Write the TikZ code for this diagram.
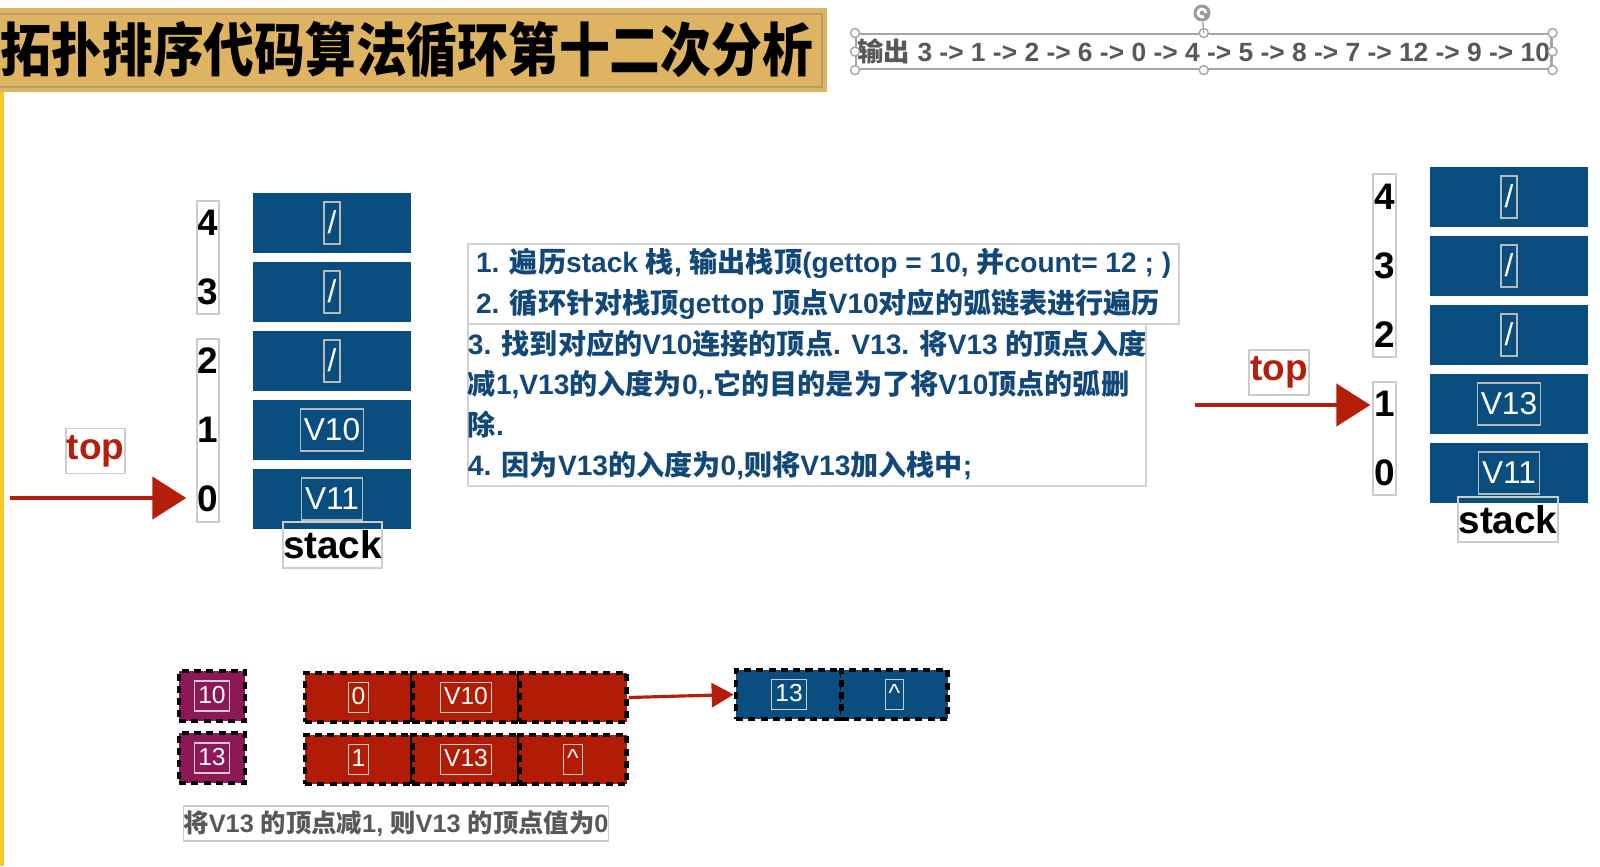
\documentclass[tikz,border=0pt]{standalone}
\usepackage{fontspec}
\setmainfont{Liberation Sans}
\newfontfamily\cjk{Noto Sans CJK SC}
\newcommand{\zh}[1]{{\cjk #1}}
\usetikzlibrary{arrows.meta}

\definecolor{dorado}{RGB}{222,179,97}
\definecolor{amarillo}{RGB}{246,200,40}
\definecolor{pilaazul}{RGB}{10,78,128}
\definecolor{rojo}{RGB}{180,30,10}
\definecolor{celdaroja}{RGB}{178,28,6}
\definecolor{morado}{RGB}{140,24,88}
\definecolor{azultexto}{RGB}{18,72,120}
\definecolor{grisout}{RGB}{88,88,88}

\begin{document}
\begin{tikzpicture}[x=0.01cm, y=-0.01cm,
    celda/.style={fill=pilaazul, minimum width=1.58cm, minimum height=0.6cm, inner sep=0pt},
    etiq/.style={draw=gray!55, line width=0.4pt, text=white, inner xsep=1pt, inner ysep=0.01cm,
        text height=0.3cm, text depth=0.1cm, font=\fontsize{9}{9}\selectfont},
    indice/.style={inner sep=0pt, font=\bfseries\fontsize{10.5}{10.5}\selectfont},
    marco/.style={draw=gray!40, line width=0.4pt, inner sep=0pt},
    flecha/.style={draw=rojo, line width=1.3pt, -{Triangle[length=0.34cm,width=0.42cm]}},
    caja/.style={draw=gray!35, line width=0.5pt, inner sep=0pt, text=azultexto, align=left,
        font=\bfseries\fontsize{8}{11.5}\selectfont},
    nodo/.style={draw=black, line width=1.3pt, dash pattern=on 2pt off 1.5pt,
        minimum height=0.49cm, inner sep=0pt},
    etiqb/.style={draw=white!60!gray, line width=0.3pt, text=white, inner xsep=1pt, inner ysep=0.01cm,
        text height=0.21cm, text depth=0.07cm, font=\fontsize{7}{7}\selectfont},
    asa/.style={circle, draw=gray!70, fill=white, inner sep=0pt, minimum size=0.09cm}]
    \useasboundingbox (0,0) rectangle (1600,866);

    % Titulo
    \fill[dorado] (0,8) rectangle (827,92);
    \draw[gray!45!dorado, line width=0.8pt] (0,14) -- (822,14) -- (822,87) -- (0,87);
    \node[anchor=west, inner sep=0pt, font=\cjk\bfseries\fontsize{16.5}{16.5}\selectfont] (titulo) at (0,50)
        {\scalebox{0.875}[1]{拓扑排序代码算法循环第十二次分析}};
    \draw[amarillo, line width=1.5pt] (1,92) -- (1,866);

    % Salida
    \node[draw=gray!70, line width=0.6pt, minimum width=6.95cm, minimum height=0.35cm, inner sep=0pt,
        anchor=north west] (salida) at (855,33) {};
    \node[text=grisout, inner sep=0pt, font=\bfseries\fontsize{7.5}{7.5}\selectfont] at (salida)
        {\zh{输出} 3 -> 1 -> 2 -> 6 -> 0 -> 4 -> 5 -> 8 -> 7 -> 12 -> 9 -> 10};
    \foreach \p in {north west,north,north east,west,east,south west,south,south east}
        \node[asa] at (salida.\p) {};
    \node[circle, fill=gray!80, inner sep=0pt, minimum size=0.17cm] (giro) at (1202,13) {};
    \draw[white, line width=0.8pt] (giro) ++(0.04cm,0) arc (0:300:0.04cm);
    \draw[gray!70] (giro) -- (salida.north);

    % Pila izquierda
    \foreach \i/\t in {0/V11,1/V10,2/\slash,3/\slash,4/\slash} {
        \node[celda] (pi\i) at (332,{499-69*\i}) {};
        \node[etiq] at (pi\i) {\t};
        \node[indice] (ni\i) at (208,{499-69*\i}) {\i};
    }
    \node[marco, minimum width=0.22cm, minimum height=1.13cm] (mi1) at (208,257.5) {};
    \node[marco, minimum width=0.22cm, minimum height=1.83cm] (mi2) at (208,430.5) {};
    \node[marco, minimum width=0.99cm, minimum height=0.46cm, font=\bfseries\fontsize{11}{11}\selectfont]
        (pila1) at (332.5,545) {stack};
    \node[marco, minimum width=0.59cm, minimum height=0.45cm, text=rojo, font=\bfseries\fontsize{10.5}{10.5}\selectfont]
        (top1) at (95.5,451) {top};
    \coordinate (a1) at (10,498);
    \draw[flecha, shorten >=0.1cm] (a1) -- (mi2.west |- a1);

    % Pasos
    \node[caja, minimum width=7.11cm, minimum height=0.8cm, anchor=north west] (paso1) at (467,243)
        {1. \zh{遍历}stack \zh{栈}, \zh{输出栈顶}(gettop = 10, \zh{并}count= 12 ; )\\
         2. \zh{循环针对栈顶}gettop \zh{顶点}V10\zh{对应的弧链表进行遍历}};
    \node[caja, minimum width=6.77cm, minimum height=1.62cm, anchor=north west] (paso2) at (467,323)
        {3. \zh{找到对应的}V10\zh{连接的顶点}. V13. \zh{将}V13 \zh{的顶点入度}\\
         \zh{减}1,V13\zh{的入度为}0,.\zh{它的目的是为了将}V10\zh{顶点的弧删}\\
         \zh{除}.\\
         4. \zh{因为}V13\zh{的入度为}0,\zh{则将}V13\zh{加入栈中};};

    % Pila derecha
    \foreach \i/\t in {0/V11,1/V13,2/\slash,3/\slash,4/\slash} {
        \node[celda] (pd\i) at (1509,{473-69*\i}) {};
        \node[etiq] at (pd\i) {\t};
        \node[indice] (nd\i) at (1384.5,{473-69*\i}) {\i};
    }
    \node[marco, minimum width=0.23cm, minimum height=1.83cm] (md1) at (1384.5,265.5) {};
    \node[marco, minimum width=0.23cm, minimum height=1.13cm] (md2) at (1384.5,438.5) {};
    \node[marco, minimum width=1cm, minimum height=0.45cm, font=\bfseries\fontsize{11}{11}\selectfont]
        (pila2) at (1508,519.5) {stack};
    \node[marco, minimum width=0.6cm, minimum height=0.45cm, text=rojo, font=\bfseries\fontsize{10.5}{10.5}\selectfont]
        (top2) at (1279,372.5) {top};
    \coordinate (a2) at (1195,405);
    \draw[flecha, shorten >=0.02cm] (a2) -- (md2.west |- a2);

    % Lista de adyacencia
    \foreach \n/\y/\t in {v10/696/10,v13/758/13} {
        \node[nodo, fill=morado, minimum width=0.66cm, minimum height=0.5cm] (\n) at (212,\y) {};
        \node[etiqb] at (\n) {\t};
    }
    \foreach \n/\x/\y/\t in {r11/358.5/697.5/0,r12/466/697.5/V10,r21/358.5/759.5/1,r22/466/759.5/V13,r23/573/759.5/\^{}} {
        \node[nodo, fill=celdaroja, minimum width=1.07cm] (\n) at (\x,\y) {};
        \node[etiqb] at (\n) {\t};
    }
    \node[nodo, fill=celdaroja, minimum width=1.07cm] (r13) at (573,697.5) {};
    \foreach \n/\x/\t in {b1/789/13,b2/894.5/\^{}} {
        \node[nodo, fill=pilaazul, minimum width=1.06cm] (\n) at (\x,694.5) {};
        \node[etiqb] at (\n) {\t};
    }
    \draw[draw=rojo, line width=0.9pt, -{Triangle[length=0.22cm,width=0.24cm]}] (r13.east) -- (b1.west);

    % Nota
    \node[marco, minimum width=4.24cm, minimum height=0.35cm, text=grisout, font=\bfseries\fontsize{7.2}{7.2}\selectfont]
        (nota) at (396,823.5) {\zh{将}V13 \zh{的顶点减}1, \zh{则}V13 \zh{的顶点值为}0};
\end{tikzpicture}
\end{document}
